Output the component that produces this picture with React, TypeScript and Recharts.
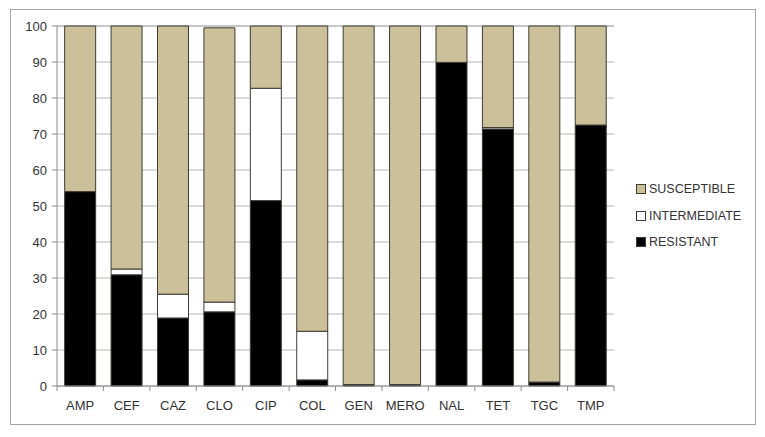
import { BarChart, Bar, XAxis, YAxis, CartesianGrid, Legend } from 'recharts';

const drugs = ['AMP', 'CEF', 'CAZ', 'CLO', 'CIP', 'COL', 'GEN', 'MERO', 'NAL', 'TET', 'TGC', 'TMP'];
const resistant = [54, 30.9, 18.9, 20.6, 51.5, 1.7, 0.4, 0.4, 89.9, 71.4, 1.1, 72.5];
const intermediate = [0, 1.6, 6.6, 2.7, 31.2, 13.5, 0, 0, 0, 0.4, 0, 0];
const susceptible = [46, 67.5, 74.5, 76.2, 17.3, 84.8, 99.6, 99.6, 10.1, 28.2, 98.9, 27.5];
const yTicks = [0, 10, 20, 30, 40, 50, 60, 70, 80, 90, 100];

const data = drugs.map((name, i) => ({
  name,
  resistant: resistant[i],
  intermediate: intermediate[i],
  susceptible: susceptible[i],
}));

const FONT = '"Liberation Sans", Arial, sans-serif';
const TAN = '#cbc09a';
const EDGE = '#3c3c34';
const AXIS = '#8c8c8c';

const W = 765;
const H = 437;
const margin = { top: 26, right: 151, left: 0, bottom: 0 };
const yAxisW = 57;
const plotW = W - margin.left - margin.right - yAxisW;
const halfBand = plotW / drugs.length / 2;

const legendItems = [
  { label: 'SUSCEPTIBLE', color: TAN },
  { label: 'INTERMEDIATE', color: '#ffffff' },
  { label: 'RESISTANT', color: '#000000' },
];

function XTick(props: any) {
  const { x, y, payload, index } = props;
  const last = index === drugs.length - 1;
  return (
    <g>
      <line x1={x - halfBand} x2={x - halfBand} y1={y - 8} y2={y - 3} stroke={AXIS} />
      {last && <line x1={x + halfBand} x2={x + halfBand} y1={y - 8} y2={y - 3} stroke={AXIS} />}
      <text x={x} y={y + 16} textAnchor="middle" fontSize={13} fill="#333" fontFamily={FONT}>
        {payload.value}
      </text>
    </g>
  );
}

function LegendBox() {
  return (
    <div style={{ fontFamily: FONT, fontSize: 12.5, color: '#333' }}>
      {legendItems.map((it) => (
        <div key={it.label} style={{ display: 'flex', alignItems: 'center', height: 26.5 }}>
          <span
            style={{
              display: 'inline-block',
              width: 8,
              height: 8,
              background: it.color,
              border: `1px solid ${EDGE}`,
              marginRight: 3,
            }}
          />
          {it.label}
        </div>
      ))}
    </div>
  );
}

export default function App() {
  return (
    <div style={{ position: 'absolute', left: 0, top: 0, width: W, height: H, background: '#fff' }}>
      <div
        style={{
          position: 'absolute',
          left: 10,
          top: 9,
          width: 744,
          height: 414,
          border: '1px solid #a6a6a6',
        }}
      />
      <BarChart width={W} height={H} data={data} margin={margin} barCategoryGap="16.5%">
        <CartesianGrid vertical={false} stroke="#b4b4b4" />
        <XAxis
          dataKey="name"
          height={51}
          stroke={AXIS}
          tickLine={false}
          tick={<XTick />}
          interval={0}
        />
        <YAxis
          width={yAxisW}
          domain={[0, 100]}
          ticks={yTicks}
          stroke={AXIS}
          tickSize={5}
          tickMargin={5}
          tick={{ fontSize: 13, fill: '#333', fontFamily: FONT }}
        />
        <Legend
          layout="horizontal"
          verticalAlign="middle"
          content={<LegendBox />}
          wrapperStyle={{ left: 636, top: 176, width: 125 }}
        />
        <Bar dataKey="resistant" stackId="a" fill="#000000" stroke={EDGE} isAnimationActive={false} />
        <Bar dataKey="intermediate" stackId="a" fill="#ffffff" stroke={EDGE} isAnimationActive={false} />
        <Bar dataKey="susceptible" stackId="a" fill={TAN} stroke={EDGE} isAnimationActive={false} />
      </BarChart>
    </div>
  );
}
